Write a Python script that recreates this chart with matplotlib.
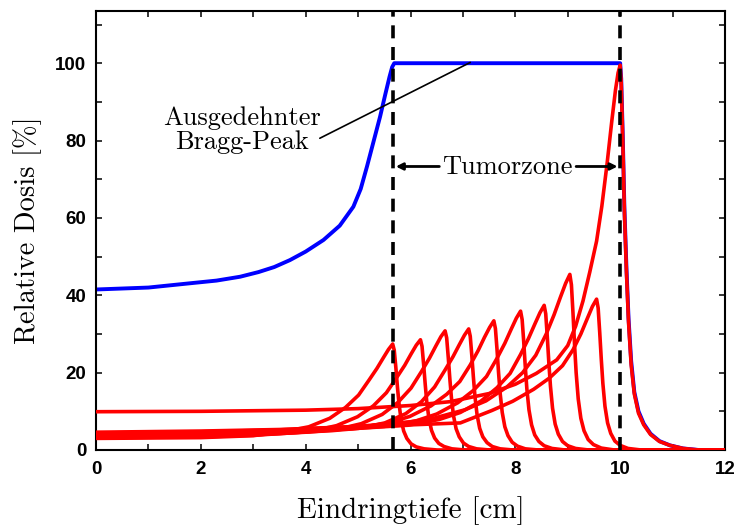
import matplotlib
matplotlib.use("Agg")
import matplotlib.pyplot as plt
from matplotlib.ticker import MultipleLocator

# ---- data ----
sobp_x = [0, 1.0, 1.79, 2.3, 2.75, 3.1, 3.4, 3.7, 4.0, 4.34, 4.65, 4.91, 5.05, 5.17, 5.3, 5.42, 5.52, 5.6, 5.65, 5.69,
          10.0, 10.02, 10.05, 10.08, 10.12, 10.16, 10.21, 10.27, 10.35, 10.45, 10.58, 10.75, 10.95, 11.2, 11.5, 12]
sobp_y = [41.5, 42.0, 43.1, 43.8, 44.8, 46.0, 47.3, 49.1, 51.3, 54.3, 58.0, 62.9, 67.5, 73.3, 80.0, 86.2, 92.0, 96.5, 99.0, 100,
          100, 96, 81, 63, 47, 34, 23, 15, 10, 6.8, 4.2, 2.3, 1.2, 0.4, 0, 0]

peak1_x = [0, 2, 3.0, 3.56, 4.06, 4.46, 4.76, 5.01, 5.21, 5.36, 5.48, 5.58, 5.66,
           5.69, 5.72, 5.75, 5.78, 5.82, 5.87, 5.93, 6.01, 6.11, 6.26, 6.51, 12]
peak1_y = [3.0, 3.2, 3.7, 4.7, 6.0, 8.2, 11.0, 14.2, 18.1, 21.1, 23.8, 26.0, 27.4,
           25.8, 21.4, 16.4, 12.1, 7.9, 4.9, 3.0, 1.6, 0.8, 0.3, 0, 0]

peak2_x = [0, 2, 3.0, 3.6, 4.09, 4.59, 4.99, 5.29, 5.54, 5.74, 5.89, 6.01, 6.11, 6.19,
           6.22, 6.25, 6.28, 6.31, 6.35, 6.40, 6.46, 6.54, 6.64, 6.79, 7.04, 12]
peak2_y = [3.2, 3.4, 3.8, 4.3, 4.8, 6.3, 8.6, 11.4, 14.8, 18.8, 21.9, 24.8, 27.1, 28.5,
           26.8, 22.2, 17.1, 12.5, 8.3, 5.1, 3.1, 1.7, 0.9, 0.3, 0, 0]

peak3_x = [0, 2, 3.0, 4.0, 4.56, 5.06, 5.46, 5.76, 6.01, 6.21, 6.36, 6.48, 6.58, 6.66,
           6.69, 6.72, 6.75, 6.78, 6.82, 6.87, 6.93, 7.01, 7.11, 7.26, 7.51, 12]
peak3_y = [3.4, 3.6, 3.9, 4.6, 5.2, 6.8, 9.2, 12.3, 16.0, 20.3, 23.7, 26.8, 29.3, 30.8,
           29.0, 24.0, 18.5, 13.6, 8.9, 5.5, 3.4, 1.8, 0.9, 0.3, 0, 0]

peak4_x = [0, 2, 3.5, 4.5, 5.01, 5.51, 5.91, 6.21, 6.46, 6.66, 6.81, 6.93, 7.03, 7.11,
           7.14, 7.17, 7.20, 7.23, 7.27, 7.32, 7.38, 7.46, 7.56, 7.71, 7.96, 12]
peak4_y = [3.6, 3.8, 4.3, 5.0, 5.6, 7.0, 9.4, 12.5, 16.3, 20.7, 24.1, 27.2, 29.7, 31.3,
           29.4, 24.4, 18.8, 13.8, 9.1, 5.6, 3.4, 1.9, 0.9, 0.3, 0, 0]

peak5_x = [0, 2, 3.5, 4.5, 4.99, 5.59, 5.99, 6.39, 6.69, 6.94, 7.14, 7.29, 7.41, 7.51, 7.59,
           7.62, 7.65, 7.68, 7.71, 7.75, 7.80, 7.86, 7.94, 8.04, 8.19, 8.44, 12]
peak5_y = [3.8, 4.0, 4.5, 5.2, 5.7, 7.0, 8.7, 11.4, 14.4, 17.7, 22.0, 25.7, 29.1, 31.7, 33.4,
           31.4, 26.1, 20.0, 14.7, 9.7, 6.0, 3.7, 2.0, 1.0, 0.3, 0, 0]

peak6_x = [0, 2, 3.5, 4.5, 5.5, 6.1, 6.5, 6.9, 7.2, 7.45, 7.65, 7.8, 7.92, 8.02, 8.10,
           8.13, 8.16, 8.19, 8.22, 8.26, 8.31, 8.37, 8.45, 8.55, 8.70, 8.95, 12]
peak6_y = [4.0, 4.2, 4.6, 5.2, 6.1, 7.5, 9.3, 12.2, 15.4, 19.0, 23.7, 27.6, 31.2, 34.1, 35.9,
           33.7, 28.0, 21.5, 15.8, 10.4, 6.5, 3.9, 2.2, 1.1, 0.4, 0, 0]

peak7_x = [0, 2, 3.5, 5.0, 5.95, 6.55, 6.95, 7.35, 7.65, 7.9, 8.1, 8.25, 8.37, 8.47, 8.55,
           8.58, 8.61, 8.64, 8.67, 8.71, 8.76, 8.82, 8.90, 9.00, 9.15, 9.40, 12]
peak7_y = [4.2, 4.4, 4.8, 5.6, 6.4, 7.9, 9.7, 12.7, 16.1, 19.8, 24.7, 28.8, 32.5, 35.5, 37.4,
           35.2, 29.2, 22.4, 16.5, 10.8, 6.7, 4.1, 2.2, 1.1, 0.4, 0, 0]

peak8_x = [0, 2, 3.5, 5.0, 6.0, 6.44, 7.04, 7.44, 7.84, 8.14, 8.39, 8.59, 8.74, 8.86, 8.96, 9.04,
           9.07, 9.10, 9.13, 9.16, 9.20, 9.25, 9.31, 9.39, 9.49, 9.64, 9.89, 12]
peak8_y = [4.4, 4.7, 5.2, 6.1, 7.3, 8.2, 10.4, 12.7, 16.3, 20.0, 24.5, 30.0, 35.0, 39.5, 43.1, 45.4,
           42.7, 35.4, 27.2, 20.0, 13.2, 8.2, 5.0, 2.7, 1.4, 0.5, 0, 0]

peak9_x = [0, 2, 3.5, 4.66, 6.0, 6.95, 7.55, 7.95, 8.35, 8.65, 8.9, 9.1, 9.25, 9.37, 9.47, 9.55,
           9.58, 9.61, 9.64, 9.67, 9.71, 9.76, 9.82, 9.90, 10.00, 10.15, 10.40, 12]
peak9_y = [4.6, 4.9, 5.3, 5.9, 6.5, 7.0, 10.2, 12.6, 15.7, 18.6, 21.8, 25.9, 30.0, 33.9, 37.1, 39.0,
           36.7, 30.4, 23.4, 17.2, 11.3, 7.0, 4.3, 2.3, 1.2, 0.4, 0, 0]

peak10_x = [0, 2, 4.0, 5.0, 6.0, 6.76, 7.5, 8.0, 8.4, 8.79, 9.0, 9.15, 9.29, 9.42, 9.55, 9.65, 9.75, 9.84, 9.91, 9.96, 10.0,
            10.02, 10.05, 10.08, 10.12, 10.16, 10.21, 10.27, 10.35, 10.45, 10.58, 10.75, 10.95, 11.2, 11.5, 12]
peak10_y = [9.9, 10.0, 10.3, 10.7, 11.5, 12.5, 14.6, 17.0, 19.8, 23.3, 27.0, 32.0, 38.5, 46.0, 54.0, 63.0, 74.0, 85.0, 93.0, 97.5, 99.5,
            95, 80, 62, 46, 33, 22, 14.5, 9.5, 6.5, 4.0, 2.2, 1.2, 0.4, 0, 0]

peaks_x = [peak1_x, peak2_x, peak3_x, peak4_x, peak5_x, peak6_x, peak7_x, peak8_x, peak9_x, peak10_x]
peaks_y = [peak1_y, peak2_y, peak3_y, peak4_y, peak5_y, peak6_y, peak7_y, peak8_y, peak9_y, peak10_y]

tumor_start = 5.67
tumor_end = 10.0

x_label = "Eindringtiefe [cm]"
y_label = "Relative Dosis [%]"
sobp_label = "Ausgedehnter\nBragg-Peak"
tumor_label = "Tumorzone"

# ---- figure ----
fig = plt.figure(figsize=(7.35, 5.29), dpi=100)
ax = fig.add_axes([96 / 735, 79 / 529, 629 / 735, 439 / 529])

serif = "cmr10"
tickfont = "Liberation Sans"

ax.plot(sobp_x, sobp_y, color="#0000ff", lw=2.8, zorder=2, solid_joinstyle="round")
for px, py in zip(peaks_x, peaks_y):
    ax.plot(px, py, color="#ff0000", lw=2.6, zorder=3, solid_joinstyle="round")

for xv in (tumor_start, tumor_end):
    ax.axvline(xv, color="black", lw=2.6, linestyle=(0, (3.6, 2.4)), zorder=4)

ax.set_xlim(0, 12)
ax.set_ylim(0, 113.5)
ax.xaxis.set_major_locator(MultipleLocator(2))
ax.xaxis.set_minor_locator(MultipleLocator(1))
ax.yaxis.set_major_locator(MultipleLocator(20))
ax.yaxis.set_minor_locator(MultipleLocator(10))
ax.tick_params(which="both", direction="in", top=True, right=True, length=4, width=1.1)
ax.tick_params(axis="y", which="major", pad=7)
ax.tick_params(axis="x", which="major", pad=8)
for lab in ax.get_xticklabels() + ax.get_yticklabels():
    lab.set_fontfamily(tickfont)
    lab.set_fontweight("bold")
    lab.set_fontsize(13.5)
for sp in ax.spines.values():
    sp.set_linewidth(1.5)

ax.set_xlabel(x_label, fontfamily=serif, fontsize=21)
ax.set_ylabel(y_label, fontfamily=serif, fontsize=20.5)
ax.xaxis.set_label_coords(0.5, -0.105)
ax.yaxis.set_label_coords(-0.086, 0.5)

# annotations
ax.text(2.78, 82.8, sobp_label, fontfamily=serif, fontsize=19, ha="center", va="center",
        linespacing=1.02, zorder=6)
ax.annotate("", xy=(7.14, 100.2), xytext=(4.27, 80.6),
            arrowprops=dict(arrowstyle="-", lw=1.2, color="black", shrinkA=0, shrinkB=0), zorder=6)

ax.text(7.84, 71.4, tumor_label, fontfamily=serif, fontsize=19, ha="center", va="baseline", zorder=6)
ax.annotate("", xy=(tumor_start + 0.05, 73.3), xytext=(6.55, 73.3),
            arrowprops=dict(arrowstyle="-|>", lw=2.0, color="black", shrinkA=0, shrinkB=0,
                            mutation_scale=10), zorder=6)
ax.annotate("", xy=(tumor_end - 0.05, 73.3), xytext=(9.16, 73.3),
            arrowprops=dict(arrowstyle="-|>", lw=2.0, color="black", shrinkA=0, shrinkB=0,
                            mutation_scale=10), zorder=6)

fig.savefig("out.png", dpi=100)
